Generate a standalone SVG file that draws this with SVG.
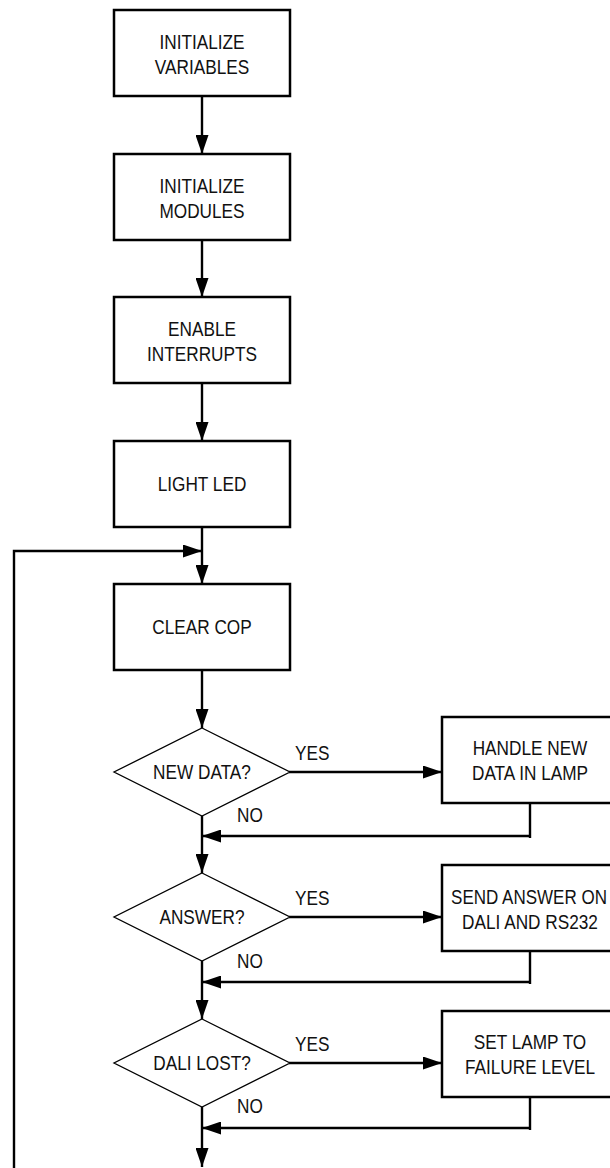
<svg xmlns="http://www.w3.org/2000/svg" width="610" height="1168" viewBox="0 0 610 1168">
<style>
.box{fill:#fff;stroke:#000;stroke-width:2.5}
.dia{fill:#fff;stroke:#000;stroke-width:1.3}
.ln{fill:none;stroke:#000;stroke-width:2.4}
.arr{fill:none;stroke:#000;stroke-width:2.4;marker-end:url(#ah)}
text{font-family:"Liberation Sans",Arial,sans-serif;font-size:21px;fill:#111}
.c{text-anchor:middle}
</style>
<defs>
<marker id="ah" markerUnits="userSpaceOnUse" markerWidth="20" markerHeight="13" refX="19" refY="6.5" orient="auto">
<path d="M0,0 L19,6.5 L0,13 z" fill="#000"/>
</marker>
</defs>
<rect width="610" height="1168" fill="#fff"/>
<g id="connectors">
<line class="arr" x1="202" y1="96" x2="202" y2="154"/>
<line class="arr" x1="202" y1="240" x2="202" y2="297"/>
<line class="arr" x1="202" y1="383" x2="202" y2="441"/>
<line class="arr" x1="202" y1="527" x2="202" y2="584"/>
<polyline class="arr" points="14,1168 14,551 202,551"/>
<line class="arr" x1="202" y1="670" x2="202" y2="728"/>
<line class="arr" x1="289" y1="772" x2="442" y2="772"/>
<line class="ln" x1="530" y1="803" x2="530" y2="838"/>
<line class="arr" x1="531" y1="836" x2="202" y2="836"/>
<line class="arr" x1="202" y1="816" x2="202" y2="873"/>
<line class="arr" x1="289" y1="917" x2="442" y2="917"/>
<line class="ln" x1="530" y1="951" x2="530" y2="984"/>
<line class="arr" x1="531" y1="982" x2="202" y2="982"/>
<line class="arr" x1="202" y1="961" x2="202" y2="1019"/>
<line class="arr" x1="289" y1="1063" x2="442" y2="1063"/>
<line class="ln" x1="530" y1="1097" x2="530" y2="1130"/>
<line class="arr" x1="531" y1="1128" x2="202" y2="1128"/>
<line class="arr" x1="202" y1="1107" x2="202" y2="1167"/>
</g>
<g id="n1"><rect class="box" x="114" y="10" width="176" height="86"/><text class="c" transform="translate(202,49) scale(0.82,1)">INITIALIZE</text><text class="c" transform="translate(202,74) scale(0.82,1)">VARIABLES</text></g>
<g id="n2"><rect class="box" x="114" y="154" width="176" height="86"/><text class="c" transform="translate(202,193) scale(0.82,1)">INITIALIZE</text><text class="c" transform="translate(202,218) scale(0.82,1)">MODULES</text></g>
<g id="n3"><rect class="box" x="114" y="297" width="176" height="86"/><text class="c" transform="translate(202,336) scale(0.82,1)">ENABLE</text><text class="c" transform="translate(202,361) scale(0.82,1)">INTERRUPTS</text></g>
<g id="n4"><rect class="box" x="114" y="441" width="176" height="86"/><text class="c" transform="translate(202,491) scale(0.82,1)">LIGHT LED</text></g>
<g id="n5"><rect class="box" x="114" y="584" width="176" height="86"/><text class="c" transform="translate(202,634) scale(0.82,1)">CLEAR COP</text></g>
<g id="d1"><polygon class="dia" points="202,728 290,772 202,816 114,772"/><text class="c" transform="translate(202,779) scale(0.82,1)">NEW DATA?</text></g>
<g id="d2"><polygon class="dia" points="202,873 290,917 202,961 114,917"/><text class="c" transform="translate(202,924) scale(0.82,1)">ANSWER?</text></g>
<g id="d3"><polygon class="dia" points="202,1019 290,1063 202,1107 114,1063"/><text class="c" transform="translate(202,1070) scale(0.82,1)">DALI LOST?</text></g>
<g id="r1"><path class="box" d="M610,717 H442 V803 H610"/><text class="c" transform="translate(530,755) scale(0.82,1)">HANDLE NEW</text><text class="c" transform="translate(530,780) scale(0.82,1)">DATA IN LAMP</text></g>
<g id="r2"><path class="box" d="M610,865 H442 V951 H610"/><text class="c" transform="translate(529,904) scale(0.81,1)">SEND ANSWER ON</text><text class="c" transform="translate(530,929) scale(0.82,1)">DALI AND RS232</text></g>
<g id="r3"><path class="box" d="M610,1011 H442 V1097 H610"/><text class="c" transform="translate(530,1049) scale(0.82,1)">SET LAMP TO</text><text class="c" transform="translate(530,1074) scale(0.82,1)">FAILURE LEVEL</text></g>
<g id="labels">
<text transform="translate(295,760) scale(0.82,1)">YES</text><text transform="translate(237,822) scale(0.82,1)">NO</text>
<text transform="translate(295,905) scale(0.82,1)">YES</text><text transform="translate(237,968) scale(0.82,1)">NO</text>
<text transform="translate(295,1051) scale(0.82,1)">YES</text><text transform="translate(237,1113) scale(0.82,1)">NO</text>
</g>
</svg>
